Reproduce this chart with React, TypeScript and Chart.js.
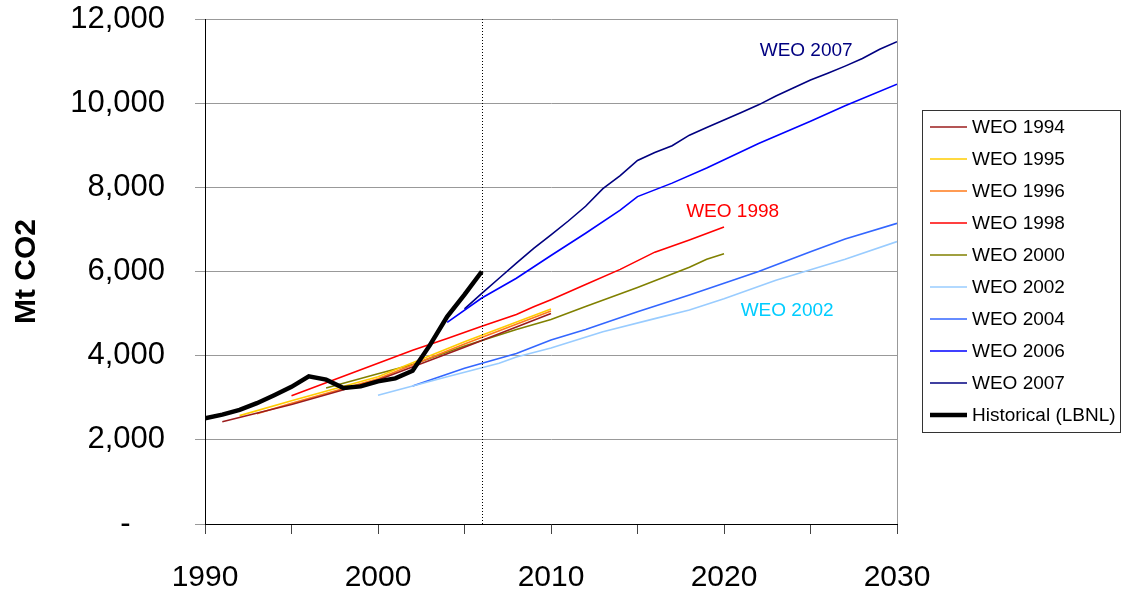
import React, { useEffect, useRef } from "react";
import { Chart, registerables } from "chart.js";

Chart.register(...registerables);

const FONT = "'Liberation Sans', Arial, Helvetica, sans-serif";

// ---- Data (Mt CO2) ----
const weo1994Years = [1991, 1995, 2000, 2005, 2010];
const weo1994Values = [2430, 2840, 3420, 4200, 5000];

const weo1995Years = [1992, 1995, 2000, 2005, 2010];
const weo1995Values = [2575, 2930, 3500, 4330, 5110];

const weo1996Years = [1993, 1995, 2000, 2005, 2010];
const weo1996Values = [2620, 2870, 3450, 4280, 5060];

const weo1998Years = [1995, 2000, 2002, 2004, 2006, 2008, 2009, 2010, 2012, 2014, 2016, 2018, 2020];
const weo1998Values = [3050, 3820, 4130, 4410, 4700, 4980, 5160, 5330, 5690, 6050, 6460, 6750, 7060];

const weo2000Years = [1997, 2000, 2002, 2005, 2008, 2010, 2012, 2015, 2018, 2019, 2020];
const weo2000Values = [3230, 3570, 3790, 4230, 4620, 4860, 5170, 5620, 6100, 6290, 6420];

const weo2002Years = [2000, 2002, 2004, 2007, 2008, 2010, 2013, 2016, 2018, 2020, 2023, 2025, 2027, 2030];
const weo2002Values = [3060, 3280, 3500, 3820, 3970, 4180, 4570, 4880, 5085, 5350, 5790, 6040, 6290, 6710];

const weo2004Years = [2002, 2005, 2008, 2010, 2012, 2015, 2018, 2020, 2022, 2025, 2027, 2030];
const weo2004Values = [3280, 3700, 4050, 4370, 4620, 5045, 5440, 5720, 6000, 6470, 6770, 7145];

const weo2006Years = [2004, 2006, 2008, 2010, 2012, 2014, 2015, 2017, 2019, 2022, 2025, 2027, 2030];
const weo2006Values = [4790, 5370, 5840, 6380, 6910, 7460, 7780, 8100, 8460, 9040, 9570, 9940, 10450];

const weo2007Years = [2005, 2006, 2007, 2008, 2009, 2010, 2011, 2012, 2013, 2014, 2015, 2016, 2017, 2018, 2019, 2020, 2021, 2022, 2023, 2024, 2025, 2026, 2027, 2028, 2029, 2030];
const weo2007Values = [5110, 5480, 5840, 6200, 6550, 6870, 7200, 7550, 7970, 8280, 8640, 8830, 8990, 9240, 9420, 9600, 9780, 9960, 10170, 10360, 10550, 10710, 10880, 11060, 11280, 11460];

const historicalYears = [1990, 1991, 1992, 1993, 1994, 1995, 1996, 1997, 1998, 1999, 2000, 2001, 2002, 2003, 2004, 2005, 2006];
const historicalValues = [2510, 2600, 2710, 2870, 3060, 3260, 3510, 3430, 3230, 3270, 3390, 3460, 3640, 4250, 4930, 5450, 6000];

const seriesNames = ["WEO 1994", "WEO 1995", "WEO 1996", "WEO 1998", "WEO 2000", "WEO 2002", "WEO 2004", "WEO 2006", "WEO 2007", "Historical (LBNL)"];
const seriesColors = ["#9B1C1C", "#FFCC00", "#FF7A1A", "#FF0000", "#808000", "#99CCFF", "#3366FF", "#0000FF", "#000080", "#000000"];
const seriesYears = [weo1994Years, weo1995Years, weo1996Years, weo1998Years, weo2000Years, weo2002Years, weo2004Years, weo2006Years, weo2007Years, historicalYears];
const seriesValues = [weo1994Values, weo1995Values, weo1996Values, weo1998Values, weo2000Values, weo2002Values, weo2004Values, weo2006Values, weo2007Values, historicalValues];

const annotationTexts = ["WEO 2007", "WEO 1998", "WEO 2002"];
const annotationX = [2024.75, 2020.5, 2023.65];
const annotationY = [11240, 7415, 5065];
const annotationColors = ["#000080", "#FF0000", "#00CCFF"];

const markerYear = 2006;

const overlayPlugin = {
  id: "overlay",
  afterDatasetsDraw(chart: any) {
    const { ctx, chartArea, scales } = chart;
    const xs = scales.x;
    const ys = scales.y;
    ctx.save();
    // right border of plot area
    ctx.strokeStyle = "#999999";
    ctx.lineWidth = 1;
    ctx.beginPath();
    ctx.moveTo(Math.round(chartArea.right) + 0.5, chartArea.top);
    ctx.lineTo(Math.round(chartArea.right) + 0.5, chartArea.bottom);
    ctx.stroke();
    // dotted marker line
    const mx = Math.round(xs.getPixelForValue(markerYear)) + 0.5;
    ctx.strokeStyle = "#000000";
    ctx.setLineDash([1, 2]);
    ctx.beginPath();
    ctx.moveTo(mx, chartArea.top);
    ctx.lineTo(mx, chartArea.bottom);
    ctx.stroke();
    ctx.setLineDash([]);
    // annotations
    ctx.font = `19px ${FONT}`;
    ctx.textAlign = "center";
    ctx.textBaseline = "middle";
    annotationTexts.forEach((t, i) => {
      ctx.fillStyle = annotationColors[i];
      ctx.fillText(t, xs.getPixelForValue(annotationX[i]), ys.getPixelForValue(annotationY[i]));
    });
    ctx.restore();
  },
  afterDraw(chart: any) {
    const { ctx } = chart;
    ctx.save();
    const bx = 922.5, by = 110.5, bw = 198, bh = 322;
    ctx.fillStyle = "#ffffff";
    ctx.fillRect(bx, by, bw, bh);
    ctx.strokeStyle = "#333333";
    ctx.lineWidth = 1;
    ctx.strokeRect(bx, by, bw, bh);
    ctx.font = `19px ${FONT}`;
    ctx.textAlign = "left";
    ctx.textBaseline = "middle";
    chart.data.datasets.forEach((ds: any, i: number) => {
      const y = 127 + i * 32;
      ctx.strokeStyle = ds.borderColor;
      ctx.lineWidth = ds.borderWidth;
      ctx.beginPath();
      ctx.moveTo(930, y);
      ctx.lineTo(967, y);
      ctx.stroke();
      ctx.fillStyle = "#000000";
      ctx.fillText(ds.label, 972, y + 1);
    });
    ctx.restore();
  },
};

export default function App() {
  const canvasRef = useRef<HTMLCanvasElement | null>(null);

  useEffect(() => {
    if (!canvasRef.current) return;
    const datasets = seriesNames.map((name, i) => ({
      label: name,
      data: seriesYears[i].map((yr, j) => ({ x: yr, y: seriesValues[i][j] })),
      borderColor: seriesColors[i],
      backgroundColor: seriesColors[i],
      borderWidth: i === seriesNames.length - 1 ? 4.5 : 1.6,
      pointRadius: 0,
      tension: 0,
      fill: false,
      order: i === seriesNames.length - 1 ? 0 : 1,
    }));
    const chart = new Chart(canvasRef.current, {
      type: "line",
      data: { datasets },
      options: {
        animation: false,
        responsive: false,
        layout: { padding: { left: 0, right: 225, top: 19, bottom: 0 } },
        plugins: { legend: { display: false }, tooltip: { enabled: false } },
        scales: {
          x: {
            type: "linear",
            min: 1990,
            max: 2030,
            afterFit: (s: any) => { s.height = 67; s.paddingLeft = 0; s.paddingRight = 0; },
            ticks: {
              stepSize: 5,
              autoSkip: false,
              maxRotation: 0,
              padding: 26,
              color: "#000000",
              font: { family: FONT, size: 30 },
              callback: (v: any) => (Number(v) % 10 === 0 ? String(v) : ""),
            },
            grid: { drawOnChartArea: false, drawTicks: true, tickLength: 10, color: "#444444" },
            border: { display: true, color: "#000000", width: 1 },
          },
          y: {
            min: 0,
            max: 12000,
            afterFit: (s: any) => { s.width = 205; s.paddingTop = 0; s.paddingBottom = 0; },
            ticks: {
              stepSize: 2000,
              padding: 30,
              color: "#000000",
              font: { family: FONT, size: 31 },
              callback: (v: any) => (Number(v) === 0 ? "-    " : Number(v).toLocaleString("en-US")),
            },
            grid: { color: "#999999", tickLength: 10, lineWidth: 1 },
            border: { display: true, color: "#000000", width: 1 },
            title: {
              display: true,
              text: "Mt CO2",
              color: "#000000",
              font: { family: FONT, size: 30, weight: "bold" },
              padding: { top: 9, bottom: 0 },
            },
          },
        },
      },
      plugins: [overlayPlugin],
    } as any);
    return () => chart.destroy();
  }, []);

  return (
    <div style={{ position: "fixed", left: 0, top: 0, width: 1122, height: 591, background: "#ffffff" }}>
      <canvas ref={canvasRef} width={1122} height={591} style={{ display: "block", width: 1122, height: 591 }} />
    </div>
  );
}
